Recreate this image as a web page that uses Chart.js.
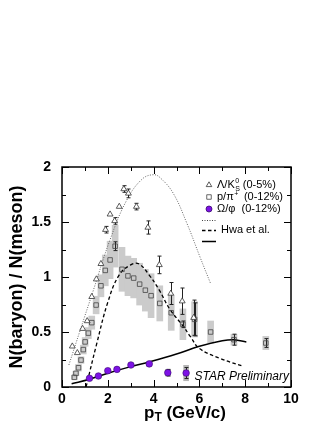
<!DOCTYPE html>
<html>
<head>
<meta charset="utf-8">
<script src="https://cdn.jsdelivr.net/npm/chart.js@4.4.0/dist/chart.umd.min.js"></script>
<style>
html, body { margin: 0; padding: 0; background: #fff; }
</style>
</head>
<body>
<canvas id="c" width="332" height="430"></canvas>
<script>
// Lambda / K0s (0-5%)
var lamX = [0.45, 0.67, 0.9, 1.1, 1.3, 1.5, 1.7, 1.9, 2.1, 2.3, 2.5, 2.7, 2.9, 3.25, 3.75, 4.25, 4.75, 5.25, 5.75];
var lamY = [0.37, 0.31, 0.53, 0.6, 0.82, 0.98, 1.12, 1.43, 1.57, 1.51, 1.64, 1.80, 1.76, 1.64, 1.45, 1.11, 0.85, 0.78, 0.63];
var lamErr = [0.01, 0.01, 0.01, 0.01, 0.01, 0.01, 0.02, 0.03, 0.02, 0.03, 0.02, 0.03, 0.04, 0.03, 0.06, 0.08, 0.1, 0.12, 0.16];

// p / pi+ (0-12%)
var pX = [0.54, 0.61, 0.72, 0.83, 0.93, 1.01, 1.15, 1.3, 1.49, 1.7, 1.89, 2.1, 2.32, 2.62, 2.88, 3.13, 3.39, 3.64, 3.89, 4.27, 4.77, 5.28, 5.79, 6.49, 7.51, 8.9];
var pY = [0.088, 0.124, 0.175, 0.245, 0.34, 0.41, 0.49, 0.585, 0.745, 0.92, 1.06, 1.155, 1.28, 1.07, 1.01, 0.99, 0.935, 0.88, 0.83, 0.76, 0.675, 0.57, 0.615, 0.50, 0.43, 0.40];
var pErr = [0.005, 0.005, 0.005, 0.005, 0.005, 0.005, 0.01, 0.01, 0.01, 0.01, 0.01, 0.01, 0.04, 0.01, 0.01, 0.01, 0.01, 0.01, 0.01, 0.01, 0.01, 0.03, 0.15, 0.02, 0.05, 0.04];
var pSys = [0.02, 0.02, 0.03, 0.03, 0.04, 0.04, 0.05, 0.06, 0.08, 0.1, 0.14, 0.17, 0.19, 0.2, 0.18, 0.18, 0.19, 0.19, 0.2, 0.16, 0.16, 0.14, 0.16, 0.1, 0.05, 0.06];

// Omega / phi (0-12%)
var omX = [1.2, 1.59, 2.0, 2.4, 3.01, 3.81, 4.62, 5.42];
var omY = [0.079, 0.10, 0.148, 0.16, 0.20, 0.21, 0.13, 0.127];
var omErr = [0.005, 0.005, 0.008, 0.008, 0.01, 0.015, 0.03, 0.05];
var omSys = [0.005, 0.005, 0.008, 0.01, 0.015, 0.02, 0.03, 0.07];

// Hwa et al. curves
var dotX = [0.3, 0.8, 1.37, 2.1, 2.83, 3.5, 4.0, 4.3, 4.86, 5.45, 6.03, 6.49];
var dotY = [0.2, 0.52, 0.88, 1.34, 1.70, 1.89, 1.93, 1.90, 1.76, 1.49, 1.18, 0.94];
var dashX = [1.05, 1.5, 2.0, 2.5, 3.0, 3.35, 3.8, 4.25, 4.7, 5.3, 5.6, 6.0, 6.9, 7.9];
var dashY = [0.0, 0.38, 0.77, 1.02, 1.11, 1.12, 1.02, 0.88, 0.71, 0.55, 0.46, 0.35, 0.26, 0.19];
var solidX = [0.42, 1.2, 2.0, 3.0, 3.84, 5.0, 6.0, 7.0, 7.5, 8.05];
var solidY = [0.03, 0.07, 0.125, 0.185, 0.23, 0.30, 0.37, 0.42, 0.43, 0.41];

var xTicks = [0, 2, 4, 6, 8, 10];
var yTicks = [0, 0.5, 1, 1.5, 2];

var FONT = "'Liberation Sans', Arial, Helvetica, sans-serif";
var PURPLE = '#7d12e6';

function pts(xs, ys) {
    var out = [];
    for (var i = 0; i < xs.length; i++) out.push({x: xs[i], y: ys[i]});
    return out;
}
function boxes(xs, ys, hs) {
    var out = [];
    for (var i = 0; i < xs.length; i++) out.push({x: xs[i], y: [ys[i] - hs[i], ys[i] + hs[i]]});
    return out;
}

// error bars, inward ticks, frame, legend and labels
var decor = {
    id: 'decor',
    beforeDatasetDraw: function(chart, args) {
        if (chart.data.datasets[args.index].label !== 'p/pi') return;
        var c = chart.ctx, xs = chart.scales.x, ys = chart.scales.y;
        c.save();
        c.strokeStyle = '#222';
        c.lineWidth = 1;
        function bars(X, Y, E) {
            for (var i = 0; i < X.length; i++) {
                var px = Math.round(xs.getPixelForValue(X[i])) + 0.5;
                var y1 = ys.getPixelForValue(Y[i] - E[i]);
                var y2 = ys.getPixelForValue(Y[i] + E[i]);
                if (y1 - y2 < 5) continue;
                c.beginPath();
                c.moveTo(px, y1); c.lineTo(px, y2);
                c.moveTo(px - 2, y1); c.lineTo(px + 2, y1);
                c.moveTo(px - 2, y2); c.lineTo(px + 2, y2);
                c.stroke();
            }
        }
        bars(lamX, lamY, lamErr);
        bars(pX, pY, pErr);
        bars(omX, omY, omErr);
        c.restore();
    },
    afterDraw: function(chart) {
        var c = chart.ctx, a = chart.chartArea, xs = chart.scales.x, ys = chart.scales.y;
        c.save();
        c.strokeStyle = '#000';
        c.lineWidth = 1;
        // inward ticks
        c.beginPath();
        for (var v = 0; v <= 2.0001; v += 0.25) {
            var py = Math.round(ys.getPixelForValue(v)) + 0.5;
            var len = (Math.abs(v * 2 - Math.round(v * 2)) < 0.01) ? 7 : 4;
            c.moveTo(a.left, py); c.lineTo(a.left + len, py);
            c.moveTo(a.right, py); c.lineTo(a.right - len, py);
        }
        for (var u = 0; u <= 10; u++) {
            var px = Math.round(xs.getPixelForValue(u)) + 0.5;
            var l2 = (u % 2 === 0) ? 7 : 4;
            c.moveTo(px, a.bottom); c.lineTo(px, a.bottom - l2);
            c.moveTo(px, a.top); c.lineTo(px, a.top + l2);
        }
        c.stroke();
        // frame
        c.lineWidth = 1.5;
        c.strokeRect(a.left, a.top, a.right - a.left, a.bottom - a.top);

        // STAR Preliminary
        c.fillStyle = '#000';
        c.font = 'italic 12px ' + FONT;
        c.textBaseline = 'middle';
        c.textAlign = 'right';
        c.fillText('STAR Preliminary', a.right - 2, 377);

        // x axis title with subscript
        c.textAlign = 'left';
        var big = 'bold 17px ' + FONT, small = 'bold 12px ' + FONT;
        c.font = big; var w1 = c.measureText('p').width;
        c.font = small; var w2 = c.measureText('T').width;
        c.font = big; var w3 = c.measureText(' (GeV/c)').width;
        var sx = 185 - (w1 + w2 + w3) / 2, ty = 413;
        c.fillText('p', sx, ty);
        c.font = small; c.fillText('T', sx + w1, ty + 5);
        c.font = big; c.fillText(' (GeV/c)', sx + w1 + w2, ty);

        // legend
        var lx = 209, tx = 217, h = Chart.helpers;
        c.font = '11px ' + FONT;
        c.lineWidth = 0.8;
        c.strokeStyle = '#333'; c.fillStyle = '#fff';
        h.drawPoint(c, {pointStyle: 'triangle', radius: 3.2, rotation: 0, borderWidth: 0.8}, lx, 185);
        c.strokeStyle = '#444'; c.fillStyle = 'rgba(0,0,0,0)';
        h.drawPoint(c, {pointStyle: 'rect', radius: 3.2, rotation: 0, borderWidth: 0.8}, lx, 197);
        c.strokeStyle = '#3a0a70'; c.fillStyle = PURPLE;
        h.drawPoint(c, {pointStyle: 'circle', radius: 3, rotation: 0, borderWidth: 0.6}, lx, 209);

        c.fillStyle = '#000';
        var t = 'Λ/K';
        c.fillText(t, tx, 185);
        var k = tx + c.measureText(t).width;
        c.font = '7px ' + FONT;
        c.fillText('0', k + 0.5, 181);
        c.fillText('S', k + 0.5, 189);
        c.font = '11px ' + FONT;
        c.fillText(' (0-5%)', k + 5, 185);
        c.fillText('p/π', tx, 197);
        var k2 = tx + c.measureText('p/π').width;
        c.font = '7px ' + FONT;
        c.fillText('+', k2 + 0.5, 194);
        c.font = '11px ' + FONT;
        c.fillText('  (0-12%)', k2 + 4, 197);
        c.fillText('Ω/φ  (0-12%)', tx, 209);
        c.fillText('Hwa et al.', 221, 230);

        c.strokeStyle = '#444'; c.lineWidth = 1;
        c.setLineDash([1, 1.5]);
        c.beginPath(); c.moveTo(202, 220.5); c.lineTo(216, 220.5); c.stroke();
        c.strokeStyle = '#000'; c.lineWidth = 1.3;
        c.setLineDash([3.5, 2.5]);
        c.beginPath(); c.moveTo(202, 230.5); c.lineTo(216, 230.5); c.stroke();
        c.setLineDash([]); c.lineWidth = 1.5;
        c.beginPath(); c.moveTo(202, 241.5); c.lineTo(216, 241.5); c.stroke();
        c.restore();
    }
};

new Chart(document.getElementById('c'), {
    type: 'scatter',
    data: {
        datasets: [
            {
                type: 'bar', label: 'p sys', data: boxes(pX, pY, pSys),
                backgroundColor: '#cbcbcb', barThickness: 6, grouped: false, order: 10
            },
            {
                type: 'bar', label: 'om sys', data: boxes(omX, omY, omSys),
                backgroundColor: '#b5b5b5', barThickness: 5, grouped: false, order: 10
            },
            {
                label: 'dotted', data: pts(dotX, dotY), showLine: true, tension: 0.4,
                borderColor: '#555', borderWidth: 0.9, borderDash: [1, 1.5], pointRadius: 0, order: 5
            },
            {
                label: 'dashed', data: pts(dashX, dashY), showLine: true, tension: 0.4,
                borderColor: '#000', borderWidth: 1.3, borderDash: [3.5, 2.5], pointRadius: 0, order: 5
            },
            {
                label: 'solid', data: pts(solidX, solidY), showLine: true, tension: 0.4,
                borderColor: '#000', borderWidth: 1.5, pointRadius: 0, order: 5
            },
            {
                label: 'p/pi', data: pts(pX, pY), pointStyle: 'rect', pointRadius: 3.2,
                borderColor: '#444', borderWidth: 0.8, backgroundColor: 'rgba(0,0,0,0)', order: 3
            },
            {
                label: 'lambda', data: pts(lamX, lamY), pointStyle: 'triangle', pointRadius: 3.4,
                borderColor: '#333', borderWidth: 0.8, backgroundColor: '#fff', order: 2
            },
            {
                label: 'omega', data: pts(omX, omY), pointStyle: 'circle', pointRadius: 3.3,
                borderColor: '#3a0a70', borderWidth: 0.6, backgroundColor: PURPLE, order: 1
            }
        ]
    },
    options: {
        responsive: false,
        animation: false,
        layout: { padding: { top: 167, right: 41, left: 0, bottom: 0 } },
        plugins: { legend: { display: false }, tooltip: { enabled: false } },
        scales: {
            x: {
                type: 'linear', min: 0, max: 10, offset: false,
                grid: { display: false, drawTicks: false },
                border: { display: false },
                afterFit: function(s) { s.height = 43; },
                afterBuildTicks: function(s) { s.ticks = xTicks.map(function(v) { return {value: v}; }); },
                ticks: {
                    padding: 4, color: '#000', maxRotation: 0,
                    font: { family: FONT, size: 14, weight: 'bold' }
                }
            },
            y: {
                type: 'linear', min: 0, max: 2,
                grid: { display: false, drawTicks: false },
                border: { display: false },
                afterFit: function(s) { s.width = 62; },
                afterBuildTicks: function(s) { s.ticks = yTicks.map(function(v) { return {value: v}; }); },
                ticks: {
                    padding: 11, color: '#000',
                    font: { family: FONT, size: 14, weight: 'bold' },
                    callback: function(v) { return String(v); }
                },
                title: {
                    display: true, text: 'N(baryon) / N(meson)', color: '#000',
                    padding: { top: 6, bottom: 0 },
                    font: { family: FONT, size: 18, weight: 'bold' }
                }
            }
        }
    },
    plugins: [decor]
});
</script>
</body>
</html>
